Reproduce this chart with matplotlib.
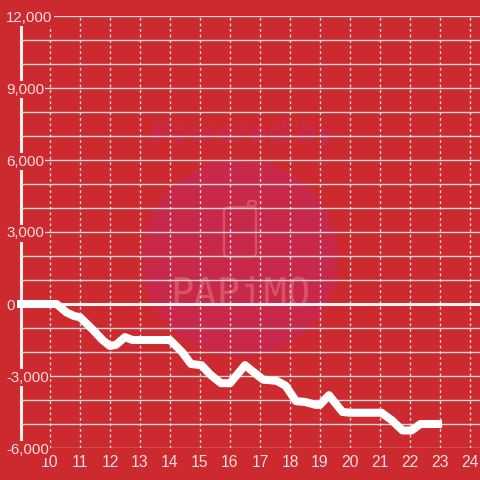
import matplotlib
matplotlib.use("Agg")
import matplotlib.pyplot as plt
from matplotlib.patches import Circle, FancyBboxPatch
from matplotlib.ticker import FixedLocator, FuncFormatter

# ---- data ----
hours = [8.9, 10.22, 10.55, 10.8, 11.0, 11.45, 11.75, 12.0, 12.2, 12.5, 12.75,
         14.0, 14.4, 14.7, 15.05, 15.35, 15.7, 16.0, 16.5, 17.1, 17.55, 17.85,
         18.2, 18.5, 18.85, 19.0, 19.3, 19.75, 20.0, 21.05, 21.4, 21.75, 22.05,
         22.35, 23.07]
values = [0, 0, -350, -500, -550, -1100, -1500, -1750, -1700, -1380, -1500,
          -1500, -2000, -2500, -2550, -2950, -3300, -3300, -2550, -3150, -3200,
          -3400, -4050, -4080, -4200, -4200, -3800, -4500, -4530, -4530, -4850,
          -5270, -5270, -5000, -5000]
x_ticks = list(range(10, 25))
y_ticks = list(range(-6000, 12001, 1000))
y_labelled = [-6000, -3000, 0, 3000, 6000, 9000, 12000]

BG = "#CC2A2F"
TXT = "#F3DEDE"
GRID = "#D9D9D9"

plt.rcParams["font.family"] = ["Liberation Sans", "DejaVu Sans"]
plt.rcParams["axes.unicode_minus"] = False

fig = plt.figure(figsize=(4.8, 4.8), dpi=100, facecolor=BG)
ax = fig.add_axes([21 / 480, 32 / 480, 459 / 480, 432 / 480])
ax.set_facecolor("none")

ax.set_xlim(10 - 29 / 30, 10 + 430 / 30)
ax.set_ylim(-6000, 12000)

# watermark
pix = fig.dpi_scale_trans
def P(x, y):
    return (x / 100.0, (480 - y) / 100.0)

ax.add_patch(Circle(P(240, 258), 0.98, transform=pix, facecolor="#C8284A",
                    edgecolor="none", zorder=1, clip_on=False))
ax.text(*P(243, 142), "Powered by", transform=pix, ha="center", va="baseline",
        fontsize=20, fontweight="bold", fontstyle="italic",
        family="DejaVu Sans", color="#C9294A", zorder=1.1)
ax.text(*P(240, 305), "PAPiMO", transform=pix, ha="center", va="baseline",
        fontsize=28, family="DejaVu Sans Mono", color="#D65466", zorder=1.1)
ax.add_patch(FancyBboxPatch(P(224, 257), 0.32, 0.50, transform=pix,
                            boxstyle="round,pad=0,rounding_size=0.05",
                            facecolor="none", edgecolor="#D65466", lw=1.6,
                            zorder=1.1, clip_on=False))
ax.add_patch(FancyBboxPatch(P(248, 206), 0.08, 0.05, transform=pix,
                            boxstyle="round,pad=0,rounding_size=0.02",
                            facecolor="none", edgecolor="#D65466", lw=1.6,
                            zorder=1.1, clip_on=False))

# grid
ax.xaxis.set_major_locator(FixedLocator(x_ticks))
ax.yaxis.set_major_locator(FixedLocator(y_ticks))
ax.yaxis.set_major_formatter(FuncFormatter(
    lambda v, p: f"{int(v):,}" if int(v) in y_labelled else ""))
ax.grid(axis="y", color=GRID, lw=1.0, ls="-")
ax.grid(axis="x", color=GRID, lw=1.0, ls=(0, (2, 2)))

ax.tick_params(axis="x", length=0, labelsize=11.3, labelcolor=TXT, pad=5)
ax.tick_params(axis="y", length=0, labelsize=10.8, labelcolor=TXT, pad=10.8)
for lab in ax.get_yticklabels():
    lab.set_horizontalalignment("left")
    lab.set_bbox(dict(facecolor=BG, edgecolor="none", pad=1.0))

for s in ("top", "right", "bottom"):
    ax.spines[s].set_visible(False)
ax.spines["left"].set_color("#F4F0F0")
ax.spines["left"].set_linewidth(2.2)
ax.spines["left"].set_zorder(1.2)

ax.axhline(0, color="#F8F4F4", lw=2.2, zorder=2)
ax.plot(hours, values, color="white", lw=5.8, solid_joinstyle="round",
        solid_capstyle="butt", zorder=3, clip_on=False)

fig.savefig("out.png", dpi=100, facecolor=BG)
